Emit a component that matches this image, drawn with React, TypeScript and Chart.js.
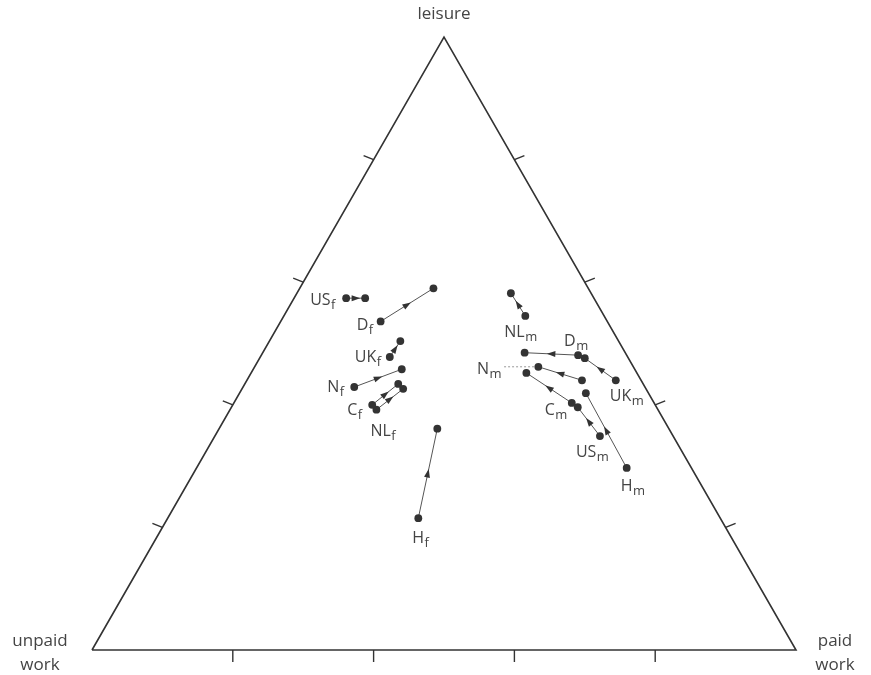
import React, { useEffect, useRef } from "react";
import { Chart, registerables } from "chart.js";

Chart.register(...registerables);

// Ternary shares (% of time): leisure / paid work / unpaid work
const axisTicks = [20, 40, 60, 80];

const femaleNames = ["US", "D", "UK", "N", "C", "NL", "H"];
const fLeisure0 = [57.4, 53.6, 47.8, 42.9, 40.0, 39.2, 21.5];
const fPaid0 = [7.4, 14.2, 18.4, 15.8, 19.8, 20.8, 35.6];
const fUnpaid0 = [35.2, 32.2, 33.8, 41.3, 40.2, 40.0, 42.9];
const fLeisure1 = [57.4, 59.0, 50.4, 45.8, 43.4, 42.6, 36.1];
const fPaid1 = [10.1, 19.0, 18.6, 21.1, 21.8, 22.9, 31.0];
const fUnpaid1 = [32.5, 22.0, 31.0, 33.1, 34.8, 34.5, 32.9];

const maleNames = ["NL", "D", "UK", "N", "C", "US", "H"];
const mLeisure0 = [54.5, 48.1, 44.0, 44.0, 40.3, 34.9, 29.7];
const mPaid0 = [34.3, 45.0, 52.4, 47.6, 48.0, 54.7, 61.1];
const mUnpaid0 = [11.2, 6.9, 3.6, 8.4, 11.7, 10.4, 9.2];
const mLeisure1 = [58.2, 48.5, 47.6, 46.2, 45.2, 39.6, 41.9];
const mPaid1 = [30.4, 37.2, 46.2, 40.3, 39.1, 49.2, 49.2];
const mUnpaid1 = [11.4, 14.3, 6.2, 13.5, 15.7, 11.2, 8.9];

// label placement (pixel offsets from the start point: left x, baseline)
const femaleLabelOffsets: [number, number][] = [
  [-36, 7], [-24, 8.5], [-35, 5], [-27, 5], [-25, 10], [-6, 26], [-6, 24.5],
];
const maleLabelOffsets: [number, number][] = [
  [-21, 21], [-14, -9], [-6, 21], [-105, -6.5], [-27, 12], [-24, 21], [-6, 23],
];

const SQ = Math.sqrt(3) / 2;
const toXY = (leisure: number, paid: number) => ({
  x: (paid + leisure / 2) / 100,
  y: (leisure / 100) * SQ,
});

const INK = "#333";
const FONT = "'Open Sans', 'Noto Sans', sans-serif";

type Series = { name: string; sub: string; pts: { x: number; y: number }[]; off: [number, number] };

function buildSeries(): Series[] {
  const out: Series[] = [];
  femaleNames.forEach((n, i) =>
    out.push({
      name: n,
      sub: "f",
      pts: [toXY(fLeisure0[i], fPaid0[i]), toXY(fLeisure1[i], fPaid1[i])],
      off: femaleLabelOffsets[i],
    })
  );
  maleNames.forEach((n, i) =>
    out.push({
      name: n,
      sub: "m",
      pts: [toXY(mLeisure0[i], mPaid0[i]), toXY(mLeisure1[i], mPaid1[i])],
      off: maleLabelOffsets[i],
    })
  );
  // unpaid shares complete each composition to 100
  void fUnpaid0; void fUnpaid1; void mUnpaid0; void mUnpaid1;
  return out;
}

export default function App() {
  const ref = useRef<HTMLCanvasElement>(null);

  useEffect(() => {
    document.body.style.margin = "0";
    const series = buildSeries();

    const corners = [toXY(0, 0), toXY(0, 100), toXY(100, 0), toXY(0, 0)];

    const overlay = {
      id: "ternaryOverlay",
      afterDatasetsDraw(chart: any) {
        const ctx = chart.ctx as CanvasRenderingContext2D;
        const xs = chart.scales.x;
        const ys = chart.scales.y;
        const px = (p: { x: number; y: number }) => ({
          x: xs.getPixelForValue(p.x),
          y: ys.getPixelForValue(p.y),
        });
        ctx.save();
        // axis ticks
        ctx.strokeStyle = INK;
        ctx.lineWidth = 1.4;
        axisTicks.forEach((t) => {
          const b = px(toXY(0, t));
          ctx.beginPath();
          ctx.moveTo(b.x, b.y);
          ctx.lineTo(b.x, b.y + 12);
          ctx.stroke();
          const l = px(toXY(t, 0));
          ctx.beginPath();
          ctx.moveTo(l.x, l.y);
          ctx.lineTo(l.x - 10, l.y - 4);
          ctx.stroke();
          const r = px(toXY(t, 100 - t));
          ctx.beginPath();
          ctx.moveTo(r.x, r.y);
          ctx.lineTo(r.x + 10, r.y - 4);
          ctx.stroke();
        });

        // arrows
        ctx.fillStyle = INK;
        series.forEach((s) => {
          const a = px(s.pts[0]);
          const b = px(s.pts[1]);
          const dx = b.x - a.x;
          const dy = b.y - a.y;
          const len = Math.hypot(dx, dy);
          if (len < 1) return;
          const ux = dx / len;
          const uy = dy / len;
          const mx = (a.x + b.x) / 2;
          const my = (a.y + b.y) / 2;
          ctx.beginPath();
          ctx.moveTo(mx + ux * 4.5, my + uy * 4.5);
          ctx.lineTo(mx - ux * 4 - uy * 3, my - uy * 4 + ux * 3);
          ctx.lineTo(mx - ux * 4 + uy * 3, my - uy * 4 - ux * 3);
          ctx.closePath();
          ctx.fill();
        });

        // labels
        ctx.fillStyle = "#444";
        ctx.textBaseline = "alphabetic";
        ctx.textAlign = "left";
        series.forEach((s) => {
          const a = px(s.pts[0]);
          const lx = a.x + s.off[0];
          const ly = a.y + s.off[1];
          ctx.font = `16px ${FONT}`;
          ctx.fillText(s.name, lx, ly);
          const w = ctx.measureText(s.name).width;
          ctx.font = `13px ${FONT}`;
          ctx.fillText(s.sub, lx + w + 0.5, ly + 4);
          if (s.name === "N" && s.sub === "m") {
            const ws = ctx.measureText(s.sub).width;
            const end = px(s.pts[1]);
            ctx.save();
            ctx.strokeStyle = "#999";
            ctx.lineWidth = 1;
            ctx.setLineDash([2, 2]);
            ctx.beginPath();
            ctx.moveTo(lx + w + ws + 3, end.y);
            ctx.lineTo(end.x - 4, end.y);
            ctx.stroke();
            ctx.restore();
          }
        });

        // corner titles
        ctx.font = `17px ${FONT}`;
        ctx.textAlign = "center";
        ctx.textBaseline = "middle";
        const top = px(corners[2]);
        ctx.fillText("leisure", top.x, top.y - 23);
        const bl = px(corners[0]);
        ctx.fillText("unpaid", bl.x - 52, bl.y - 9);
        ctx.fillText("work", bl.x - 52, bl.y + 15);
        const br = px(corners[1]);
        ctx.fillText("paid", br.x + 39, br.y - 9);
        ctx.fillText("work", br.x + 39, br.y + 15);
        ctx.restore();
      },
    };

    const datasets: any[] = [
      {
        data: corners,
        showLine: true,
        borderColor: INK,
        borderWidth: 1.6,
        pointRadius: 0,
        tension: 0,
        clip: false,
      },
      ...series.map((s) => ({
        data: s.pts,
        showLine: true,
        borderColor: "#555",
        borderWidth: 1,
        pointRadius: 3.9,
        pointBackgroundColor: INK,
        pointBorderColor: INK,
        pointBorderWidth: 0,
        tension: 0,
        clip: false,
      })),
    ];

    const chart = new Chart(ref.current as HTMLCanvasElement, {
      type: "scatter",
      data: { datasets },
      options: {
        animation: false,
        responsive: false,
        maintainAspectRatio: false,
        layout: { padding: 0, autoPadding: false },
        plugins: { legend: { display: false }, tooltip: { enabled: false } },
        scales: {
          x: { type: "linear", display: false, min: -92 / 704, max: 779 / 704 },
          y: { type: "linear", display: false, min: (-25 * SQ) / 613, max: (650 * SQ) / 613 },
        },
      },
      plugins: [overlay],
    });
    return () => chart.destroy();
  }, []);

  return (
    <div style={{ position: "absolute", left: 0, top: 0, width: 871, height: 675, background: "#fff" }}>
      <canvas ref={ref} width={871} height={675} style={{ width: 871, height: 675, display: "block" }} />
    </div>
  );
}
